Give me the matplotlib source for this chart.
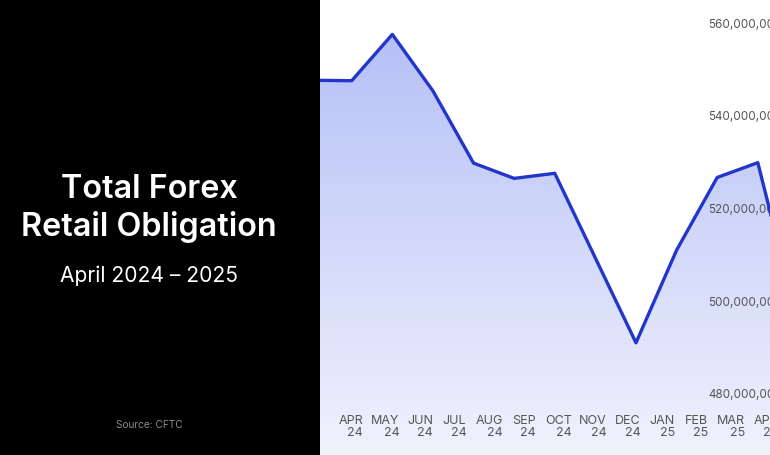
import numpy as np
import matplotlib
matplotlib.use("Agg")
import matplotlib.pyplot as plt
from matplotlib.colors import LinearSegmentedColormap
from matplotlib.ticker import FuncFormatter

plt.rcParams["font.family"] = ["Inter", "DejaVu Sans"]

# Data, monthly total retail forex obligation in USD
obligation = [547_700_000, 547_600_000, 557_600_000, 545_400_000, 529_800_000,
              526_500_000, 527_600_000, 509_300_000, 491_000_000, 511_000_000,
              526_700_000, 529_900_000, 495_000_000]
month_labels = ["APR\n24", "MAY\n24", "JUN\n24", "JUL\n24", "AUG\n24", "SEP\n24",
                "OCT\n24", "NOV\n24", "DEC\n24", "JAN\n25", "FEB\n25", "MAR\n25",
                "APR\n25"]
y_ticks = [480_000_000, 500_000_000, 520_000_000, 540_000_000, 560_000_000]

title_lines = ["Total Forex", "Retail Obligation"]
subtitle = "April 2024 \u2013 2025"
source = "Source: CFTC"

W, H = 770, 455
line_color = "#2236cc"

fig = plt.figure(figsize=(W / 100, H / 100), dpi=100)
fig.patch.set_facecolor("white")

# chart area (right side, clipped at the figure edge)
ax = fig.add_axes([320 / W, 0, 1 - 320 / W, 1])
x = np.arange(len(obligation))
ymin, ymax = 466_760_000, 565_030_000

fill = ax.fill_between(x, obligation, ymin, color="none", lw=0)
grad = np.linspace(0, 1, 256).reshape(-1, 1)
cmap = LinearSegmentedColormap.from_list("g", ["#b1bcf6", "#f0f2fd"])
im = ax.imshow(grad, cmap=cmap, aspect="auto", origin="upper",
               extent=[x[0], x[-1], ymin, ymax], zorder=1)
im.set_clip_path(fill.get_paths()[0], transform=ax.transData)
ax.plot(x, obligation, color=line_color, lw=2.4, zorder=3)

ax.set_xlim(0.219, 11.30)
ax.set_ylim(ymin, ymax)
ax.set_xticks([])
ax.set_yticks(y_ticks)
ax.yaxis.set_major_formatter(FuncFormatter(lambda v, p: f"{v:,.0f}"))
ax.tick_params(axis="y", left=False, labelleft=False, right=True, labelright=True,
               length=0, pad=-44.4, labelsize=8.4, labelcolor="#555555")
for s in ax.spines.values():
    s.set_visible(False)

# month labels on their own scale
ax_lbl = ax.twiny()
ax_lbl.set_xlim(-0.890, 12.116)
ax_lbl.set_xticks(range(len(month_labels)))
ax_lbl.set_xticklabels(month_labels)
ax_lbl.xaxis.set_ticks_position("bottom")
ax_lbl.xaxis.set_label_position("bottom")
ax_lbl.tick_params(axis="x", length=0, pad=-29, labelsize=9, labelcolor="#555555",
                   labeltop=False, labelbottom=True)
for lbl in ax_lbl.get_xticklabels():
    lbl.set_multialignment("right")
    lbl.set_linespacing(1.0)
for s in ax_lbl.spines.values():
    s.set_visible(False)

# black title panel
panel = fig.add_axes([0, 0, 320 / W, 1])
panel.set_facecolor("black")
panel.set_xticks([])
panel.set_yticks([])
for s in panel.spines.values():
    s.set_visible(False)

cx = 149 / W
fig.text(cx, 1 - 198.3 / H, title_lines[0], color="white", fontsize=23.3,
         fontweight="semibold", ha="center", va="baseline")
fig.text(cx, 1 - 236 / H, title_lines[1], color="white", fontsize=23.3,
         fontweight="semibold", ha="center", va="baseline")
fig.text(cx, 1 - 281.7 / H, subtitle, color="white", fontsize=15.1,
         ha="center", va="baseline")
fig.text(cx, 1 - 427.5 / H, source, color="#8a8a8a", fontsize=7.3,
         ha="center", va="baseline")

fig.savefig("out.png", dpi=100)
